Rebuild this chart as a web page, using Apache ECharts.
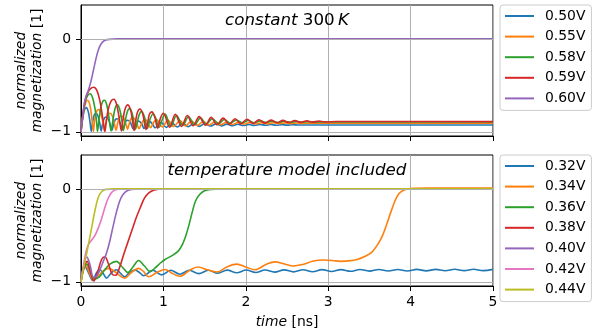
<!DOCTYPE html>
<html>
<head>
<meta charset="utf-8">
<script src="https://cdn.jsdelivr.net/npm/echarts@6/dist/echarts.min.js"></script>
<style>html,body{margin:0;padding:0;background:#fff}#c{width:601px;height:334px}</style>
</head>
<body>
<div id="c"></div>
<script>
// ---------- data (time in ns, normalized magnetization) ----------
const xTicks = [0, 1, 2, 3, 4, 5];
const yTicks = [-1, 0];
const topNames = ['0.50V', '0.55V', '0.58V', '0.59V', '0.60V'];
const bottomNames = ['0.32V', '0.34V', '0.36V', '0.38V', '0.40V', '0.42V', '0.44V'];
const bottomTitle = 'temperature model included';

const top050 = [[0,-1],[0.02,-0.86],[0.04,-0.77],[0.065,-0.74],[0.09,-0.79],[0.11,-0.9],[0.125,-0.995],[0.14,-0.9],[0.16,-0.82],[0.185,-0.8],[0.21,-0.84],[0.23,-0.92],[0.245,-0.99],[0.26,-0.92],[0.285,-0.85],[0.31,-0.84],[0.335,-0.87],[0.36,-0.94],[0.375,-0.985],[0.39,-0.94],[0.415,-0.87],[0.44,-0.86],[0.465,-0.885],[0.49,-0.95],[0.505,-0.978],[0.52,-0.95],[0.545,-0.885],[0.57,-0.875],[0.6,-0.9],[0.635,-0.97],[0.67,-0.91],[0.70,-0.885],[0.735,-0.91],[0.765,-0.963],[0.8,-0.915],[0.835,-0.89],[0.87,-0.92],[0.9,-0.957],[0.97,-0.898],[1.035,-0.952],[1.1,-0.903],[1.17,-0.948],[1.235,-0.907],[1.3,-0.944],[1.37,-0.91],[1.435,-0.941],[1.5,-0.913],[1.57,-0.938],[1.64,-0.915],[1.705,-0.936],[1.77,-0.917],[1.84,-0.934],[1.9,-0.919],[1.97,-0.932],[2.04,-0.92],[2.1,-0.931],[2.17,-0.921],[2.24,-0.93],[2.3,-0.922],[2.37,-0.929],[2.44,-0.923],[2.5,-0.928],[2.57,-0.924],[2.64,-0.927],[2.8,-0.926],[5,-0.926]];
const top055 = [[0,-1],[0.02,-0.85],[0.05,-0.71],[0.08,-0.66],[0.11,-0.72],[0.135,-0.88],[0.15,-0.995],[0.165,-0.88],[0.19,-0.78],[0.215,-0.76],[0.24,-0.8],[0.27,-0.92],[0.285,-0.99],[0.3,-0.91],[0.325,-0.82],[0.355,-0.8],[0.385,-0.84],[0.41,-0.93],[0.425,-0.985],[0.44,-0.93],[0.465,-0.845],[0.495,-0.83],[0.525,-0.86],[0.55,-0.93],[0.565,-0.975],[0.58,-0.93],[0.605,-0.86],[0.635,-0.85],[0.67,-0.89],[0.705,-0.965],[0.74,-0.9],[0.775,-0.862],[0.81,-0.9],[0.845,-0.955],[0.88,-0.9],[0.915,-0.868],[0.985,-0.947],[1.055,-0.874],[1.125,-0.943],[1.2,-0.88],[1.27,-0.937],[1.34,-0.885],[1.41,-0.932],[1.485,-0.889],[1.555,-0.927],[1.625,-0.893],[1.695,-0.924],[1.77,-0.896],[1.84,-0.921],[1.91,-0.898],[1.98,-0.918],[2.05,-0.9],[2.12,-0.916],[2.19,-0.902],[2.27,-0.914],[2.34,-0.903],[2.41,-0.913],[2.48,-0.904],[2.55,-0.912],[2.62,-0.905],[2.69,-0.911],[2.76,-0.906],[2.9,-0.908],[5,-0.908]];
const top058 = [[0,-1],[0.02,-0.84],[0.05,-0.68],[0.08,-0.61],[0.11,-0.59],[0.14,-0.63],[0.17,-0.75],[0.19,-0.9],[0.2,-0.995],[0.215,-0.9],[0.24,-0.74],[0.265,-0.67],[0.285,-0.66],[0.31,-0.7],[0.335,-0.82],[0.355,-0.95],[0.365,-0.99],[0.38,-0.92],[0.41,-0.76],[0.44,-0.71],[0.47,-0.76],[0.5,-0.9],[0.515,-0.985],[0.53,-0.92],[0.56,-0.79],[0.59,-0.75],[0.62,-0.8],[0.645,-0.92],[0.66,-0.975],[0.675,-0.93],[0.705,-0.82],[0.735,-0.78],[0.77,-0.84],[0.805,-0.965],[0.84,-0.86],[0.875,-0.805],[0.91,-0.86],[0.945,-0.952],[1.02,-0.81],[1.09,-0.94],[1.16,-0.825],[1.235,-0.93],[1.305,-0.838],[1.38,-0.922],[1.45,-0.85],[1.52,-0.916],[1.595,-0.86],[1.67,-0.911],[1.74,-0.868],[1.81,-0.907],[1.885,-0.874],[1.96,-0.904],[2.03,-0.878],[2.1,-0.902],[2.175,-0.882],[2.25,-0.9],[2.32,-0.885],[2.39,-0.899],[2.465,-0.887],[2.54,-0.898],[2.61,-0.889],[2.68,-0.897],[2.755,-0.891],[2.83,-0.896],[3.0,-0.894],[5,-0.895]];
const top059 = [[0,-1],[0.02,-0.83],[0.05,-0.66],[0.08,-0.58],[0.115,-0.535],[0.155,-0.52],[0.195,-0.56],[0.23,-0.67],[0.26,-0.83],[0.28,-0.95],[0.29,-0.995],[0.305,-0.9],[0.33,-0.76],[0.365,-0.67],[0.4,-0.65],[0.43,-0.7],[0.46,-0.83],[0.48,-0.95],[0.49,-0.99],[0.505,-0.9],[0.53,-0.77],[0.565,-0.71],[0.6,-0.76],[0.625,-0.88],[0.645,-0.985],[0.66,-0.9],[0.685,-0.79],[0.715,-0.755],[0.75,-0.81],[0.775,-0.93],[0.79,-0.975],[0.81,-0.9],[0.83,-0.81],[0.86,-0.785],[0.895,-0.84],[0.93,-0.96],[0.965,-0.85],[1.0,-0.8],[1.075,-0.95],[1.145,-0.812],[1.22,-0.942],[1.29,-0.825],[1.36,-0.935],[1.435,-0.836],[1.51,-0.929],[1.58,-0.845],[1.65,-0.924],[1.725,-0.853],[1.8,-0.918],[1.87,-0.86],[1.94,-0.914],[2.015,-0.865],[2.09,-0.91],[2.16,-0.87],[2.23,-0.906],[2.305,-0.874],[2.38,-0.903],[2.45,-0.877],[2.52,-0.9],[2.595,-0.88],[2.67,-0.898],[2.74,-0.882],[2.81,-0.896],[2.885,-0.885],[2.96,-0.894],[3.1,-0.889],[5,-0.89]];
const top060 = [[0,-1],[0.02,-0.84],[0.04,-0.7],[0.06,-0.62],[0.09,-0.55],[0.12,-0.46],[0.15,-0.34],[0.18,-0.22],[0.21,-0.12],[0.24,-0.06],[0.28,-0.02],[0.34,-0.005],[0.45,0],[5,0]];

const bot032 = [[0,-1],[0.02,-0.88],[0.05,-0.84],[0.09,-0.9],[0.14,-0.985],[0.19,-0.9],[0.23,-0.87],[0.27,-0.91],[0.31,-0.96],[0.37,-0.9],[0.43,-0.87],[0.48,-0.91],[0.53,-0.945],[0.59,-0.9],[0.655,-0.874],[0.71,-0.9],[0.76,-0.935],[0.87,-0.876],[0.98,-0.925],[1.09,-0.876],[1.2,-0.918],[1.315,-0.876],[1.43,-0.912],[1.545,-0.875],[1.66,-0.907],[1.775,-0.874],[1.89,-0.903],[2.005,-0.873],[2.12,-0.899],[2.235,-0.872],[2.35,-0.896],[2.465,-0.871],[2.58,-0.893],[2.695,-0.87],[2.81,-0.891],[2.925,-0.869],[3.04,-0.889],[3.155,-0.869],[3.27,-0.887],[3.385,-0.868],[3.5,-0.885],[3.615,-0.867],[3.73,-0.884],[3.845,-0.867],[3.96,-0.883],[4.075,-0.866],[4.19,-0.882],[4.305,-0.866],[4.42,-0.881],[4.535,-0.865],[4.65,-0.88],[4.765,-0.865],[4.88,-0.879],[5,-0.866]];
const bot034 = [[0,-1],[0.03,-0.87],[0.065,-0.83],[0.1,-0.9],[0.15,-0.98],[0.2,-0.95],[0.26,-0.89],[0.33,-0.855],[0.38,-0.87],[0.45,-0.92],[0.53,-0.96],[0.61,-0.9],[0.70,-0.855],[0.76,-0.89],[0.82,-0.946],[0.92,-0.9],[1.02,-0.868],[1.11,-0.91],[1.2,-0.94],[1.31,-0.88],[1.42,-0.84],[1.53,-0.87],[1.65,-0.895],[1.77,-0.84],[1.89,-0.81],[2.0,-0.84],[2.11,-0.87],[2.25,-0.81],[2.35,-0.785],[2.46,-0.805],[2.58,-0.83],[2.7,-0.81],[2.82,-0.775],[2.94,-0.765],[3.05,-0.77],[3.15,-0.78],[3.25,-0.775],[3.35,-0.76],[3.45,-0.725],[3.53,-0.68],[3.6,-0.6],[3.66,-0.5],[3.71,-0.38],[3.76,-0.25],[3.81,-0.13],[3.86,-0.05],[3.92,-0.012],[4.0,0.005],[4.2,0.008],[5,0.008]];
const bot036 = [[0,-1],[0.03,-0.87],[0.07,-0.81],[0.11,-0.88],[0.16,-0.97],[0.22,-0.95],[0.28,-0.88],[0.35,-0.81],[0.43,-0.78],[0.5,-0.84],[0.57,-0.9],[0.63,-0.84],[0.70,-0.77],[0.77,-0.83],[0.84,-0.89],[0.9,-0.85],[0.96,-0.8],[1.02,-0.76],[1.1,-0.72],[1.18,-0.67],[1.23,-0.6],[1.27,-0.51],[1.31,-0.39],[1.35,-0.25],[1.39,-0.13],[1.44,-0.06],[1.5,-0.02],[1.58,-0.005],[1.7,0],[5,0]];
const bot038 = [[0,-1],[0.03,-0.86],[0.075,-0.78],[0.11,-0.88],[0.155,-0.99],[0.2,-0.9],[0.25,-0.76],[0.29,-0.73],[0.33,-0.8],[0.38,-0.92],[0.42,-0.93],[0.47,-0.84],[0.52,-0.7],[0.57,-0.57],[0.62,-0.44],[0.67,-0.31],[0.72,-0.2],[0.77,-0.1],[0.82,-0.045],[0.88,-0.015],[0.95,-0.004],[1.05,0],[5,0]];
const bot040 = [[0,-1],[0.03,-0.84],[0.07,-0.73],[0.11,-0.82],[0.15,-0.95],[0.19,-0.94],[0.23,-0.87],[0.27,-0.78],[0.31,-0.69],[0.35,-0.56],[0.39,-0.4],[0.43,-0.25],[0.47,-0.13],[0.51,-0.06],[0.56,-0.02],[0.62,-0.005],[0.7,0],[5,0]];
const bot042 = [[0,-1],[0.03,-0.82],[0.06,-0.68],[0.09,-0.6],[0.13,-0.55],[0.17,-0.5],[0.21,-0.42],[0.25,-0.32],[0.29,-0.2],[0.33,-0.1],[0.37,-0.04],[0.42,-0.01],[0.5,0],[5,0]];
const bot044 = [[0,-1],[0.03,-0.86],[0.07,-0.69],[0.12,-0.46],[0.17,-0.23],[0.21,-0.09],[0.25,-0.03],[0.3,-0.005],[0.4,0],[5,0]];

const topData = [top050, top055, top058, top059, top060];
const bottomData = [bot032, bot034, bot036, bot038, bot040, bot042, bot044];
const topColors = ['#1f77b4', '#ff7f0e', '#2ca02c', '#d62728', '#9467bd'];
const bottomColors = ['#1f77b4', '#ff7f0e', '#2ca02c', '#d62728', '#9467bd', '#e377c2', '#bcbd22'];

// ---------- chart ----------
const FONT = 'DejaVu Sans';
const FS = 13.9;
const chart = echarts.init(document.getElementById('c'), null, {renderer: 'canvas'});

function xAx(gi, showLabels) {
  return {
    type: 'value', gridIndex: gi, min: 0, max: 5, interval: 1,
    axisLine: {show: true, onZero: false, lineStyle: {color: '#000', width: 1}},
    axisTick: {show: true, inside: false, length: 5, lineStyle: {color: '#000', width: 1}},
    axisLabel: {show: showLabels, margin: 9, color: '#000', fontFamily: FONT, fontSize: FS,
                customValues: xTicks},
    splitLine: {show: true, lineStyle: {color: '#b0b0b0', width: 1}},
    name: showLabels ? '{i|time} {n|[ns]}' : '',
    nameLocation: 'middle', nameGap: 29, nameMoveOverlap: false,
    nameTextStyle: {color: '#000', fontFamily: FONT, fontSize: FS,
      rich: {i: {fontStyle: 'italic', fontFamily: FONT, fontSize: FS, color: '#000'},
             n: {fontFamily: FONT, fontSize: FS, color: '#000'}}}
  };
}
function yAx(gi) {
  return {
    type: 'value', gridIndex: gi, min: -1.045, max: 0.365,
    axisLine: {show: true, onZero: false, lineStyle: {color: '#000', width: 1}},
    axisTick: {show: true, inside: false, length: 5, customValues: yTicks, lineStyle: {color: '#000', width: 1}},
    axisLabel: {show: true, margin: 10, color: '#000', fontFamily: FONT, fontSize: FS,
                customValues: yTicks, formatter: v => String(v).replace('-', '\u2212')},
    splitLine: {show: false},
    name: '{i|normalized}\n{i|magnetization} {n|[1]}',
    nameLocation: 'middle', nameRotate: 90, nameGap: 36, nameMoveOverlap: false,
    nameTextStyle: {color: '#000', fontFamily: FONT, fontSize: FS, lineHeight: 16,
      rich: {i: {fontStyle: 'italic', fontFamily: FONT, fontSize: FS, color: '#000', lineHeight: 16},
             n: {fontFamily: FONT, fontSize: FS, color: '#000', lineHeight: 16}}}
  };
}
function gridSeries(gi) {
  return {
    type: 'line', xAxisIndex: gi, yAxisIndex: gi, data: [[0, -1]], z: 1,
    symbol: 'none', showSymbol: false, lineStyle: {opacity: 0}, silent: true,
    markLine: {silent: true, symbol: 'none', label: {show: false}, animation: false,
      lineStyle: {color: '#b0b0b0', width: 1, type: 'solid'},
      data: yTicks.map(v => ({yAxis: v}))}
  };
}
function mk(name, data, color, gi) {
  return {
    type: 'line', name: name, data: data, xAxisIndex: gi, yAxisIndex: gi,
    symbol: 'none', showSymbol: false, smooth: 0.35, z: 2,
    lineStyle: {width: 1.6, color: color}, itemStyle: {color: color}
  };
}
function legend(names, topPx) {
  return {
    data: names.map(n => ({name: n, icon: 'rect'})), orient: 'vertical', left: 500, top: topPx,
    padding: [4, 6, 5, 5], itemGap: 6.6, itemWidth: 29, itemHeight: 2,
    backgroundColor: 'rgba(255,255,255,0.8)', borderColor: '#cccccc', borderWidth: 1, borderRadius: 3,
    textStyle: {color: '#000', fontFamily: FONT, fontSize: FS, padding: [0, 0, 0, 6], lineHeight: 14},
    selectedMode: false
  };
}
const titleRich = {
  i: {fontStyle: 'italic', fontWeight: 'normal', fontFamily: FONT, fontSize: 16.7, color: '#000'},
  n: {fontStyle: 'normal', fontWeight: 'normal', fontFamily: FONT, fontSize: 16.7, color: '#000'}
};

const series = [gridSeries(0), gridSeries(1)];
topNames.forEach((n, i) => series.push(mk(n, topData[i], topColors[i], 0)));
bottomNames.forEach((n, i) => series.push(mk(n, bottomData[i], bottomColors[i], 1)));

chart.setOption({
  animation: false,
  backgroundColor: '#fff',
  title: [
    {text: '{i|constant }{n|300}{i|\u2009K}', left: 287, top: 12, textAlign: 'center', padding: 0,
     textStyle: {rich: titleRich, fontFamily: FONT, fontSize: 16.7, fontWeight: 'normal'}},
    {text: '{i|' + bottomTitle + '}', left: 287, top: 162, textAlign: 'center', padding: 0,
     textStyle: {rich: titleRich, fontFamily: FONT, fontSize: 16.7, fontWeight: 'normal'}}
  ],
  grid: [
    {left: 81, top: 5, width: 412, height: 131, show: true, borderColor: '#000', borderWidth: 1, backgroundColor: 'transparent'},
    {left: 81, top: 155, width: 412, height: 131, show: true, borderColor: '#000', borderWidth: 1, backgroundColor: 'transparent'}
  ],
  xAxis: [xAx(0, false), xAx(1, true)],
  yAxis: [yAx(0), yAx(1)],
  legend: [legend(topNames, 5), legend(bottomNames, 155)],
  series: series
});
</script>
</body>
</html>
